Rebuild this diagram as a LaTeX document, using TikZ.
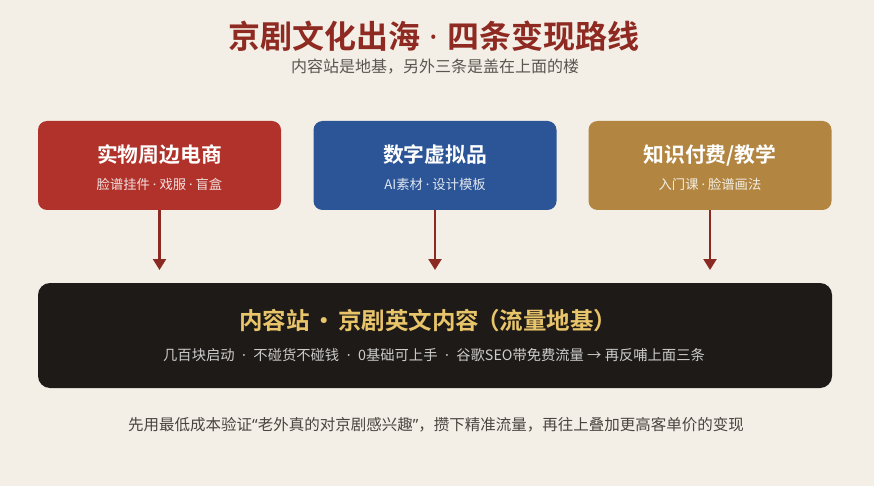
\documentclass[tikz,border=0pt]{standalone}
\usepackage{fontspec}
\setmainfont{Noto Sans CJK SC}
\newfontfamily\cjk{Noto Sans CJK SC}
\newfontfamily\cjkb{Noto Sans CJK SC Bold}
\newfontfamily\latinf{Noto Sans}
\newcommand{\mdd}[1]{\hspace{#1}{\latinf ·}\hspace{#1}}
\usetikzlibrary{arrows.meta}
\definecolor{bgc}{HTML}{F4EFE6}
\definecolor{redc}{HTML}{B0322A}
\definecolor{bluec}{HTML}{2B5596}
\definecolor{goldc}{HTML}{B28641}
\definecolor{darkc}{HTML}{1E1A17}
\definecolor{titlec}{HTML}{8E2A22}
\definecolor{arrowc}{HTML}{8B2A22}
\definecolor{goldtext}{HTML}{E8C46A}
\definecolor{greytext}{HTML}{5A5550}
\tikzset{
  x=1pt,y=-1pt,
  topbox/.style={rounded corners=9pt, minimum width=243pt, minimum height=89pt, inner sep=0pt},
  boxtitle/.style={text=white, font=\cjkb\fontsize{20.8}{24}\selectfont, inner sep=0pt},
  boxsub/.style={text=white, font=\cjk\fontsize{13.3}{16}\selectfont, inner sep=0pt, text opacity=0.85},
  flowarrow/.style={draw=arrowc, line width=2.2pt, -{Triangle[length=11pt,width=13pt]}},
}
\begin{document}
\begin{tikzpicture}
\fill[bgc] (0,0) rectangle (874,486);
\useasboundingbox (0,0) rectangle (874,486);

\node[text=titlec, font=\cjkb\fontsize{32}{36}\selectfont, inner sep=0pt] (title) at (434,36) {京剧文化出海\mdd{9pt}四条变现路线};
\node[text=greytext, font=\cjk\fontsize{16}{19}\selectfont, inner sep=0pt] (subtitle) at (435,67) {内容站是地基，另外三条是盖在上面的楼};

\node[topbox, fill=redc] (b1) at (159.5,165.5) {};
\node[topbox, fill=bluec] (b2) at (435,165.5) {};
\node[topbox, fill=goldc] (b3) at (710,165.5) {};

\node[boxtitle] (t1) at (159.5,155) {实物周边电商};
\node[boxsub] (s1) at (159.5,184) {脸谱挂件\mdd{3pt}戏服\mdd{3pt}盲盒};
\node[boxtitle] (t2) at (435,155) {数字虚拟品};
\node[boxsub] (s2) at (435,184) {AI素材\mdd{3pt}设计模板};
\node[boxtitle] (t3) at (710,155) {知识付费/教学};
\node[boxsub] (s3) at (710,184) {入门课\mdd{3pt}脸谱画法};

\node[rounded corners=12pt, fill=darkc, minimum width=794pt, minimum height=105pt, inner sep=0pt] (base) at (435,335.5) {};
\node[text=goldtext, font=\cjkb\fontsize{23.5}{27}\selectfont, inner sep=0pt, anchor=west] (basetitle) at (239,321) {内容站\hspace{2.5pt}·\hspace{2.5pt}京剧英文内容\kern-3pt（流量地基）};
\node[text=white!80!black, font=\cjk\fontsize{14.3}{17}\selectfont, inner sep=0pt] (basesub) at (434,355) {几百块启动\mdd{7.5pt}不碰货不碰钱\mdd{7.5pt}0基础可上手\mdd{7.5pt}谷歌SEO带免费流量 → 再反哺上面三条};

\coordinate (a1) at (159.5,270);
\coordinate (a2) at (435,270);
\coordinate (a3) at (710,270);
\draw[flowarrow] (b1.south) -- (a1);
\draw[flowarrow] (b2.south) -- (a2);
\draw[flowarrow] (b3.south) -- (a3);

\node[text=greytext!80!black, font=\cjk\fontsize{15.5}{18}\selectfont, inner sep=0pt] (foot) at (436,425) {先用最低成本验证{\latinf “}老外真的对京剧感兴趣{\latinf ”}，攒下精准流量，再往上叠加更高客单价的变现};
\end{tikzpicture}
\end{document}
